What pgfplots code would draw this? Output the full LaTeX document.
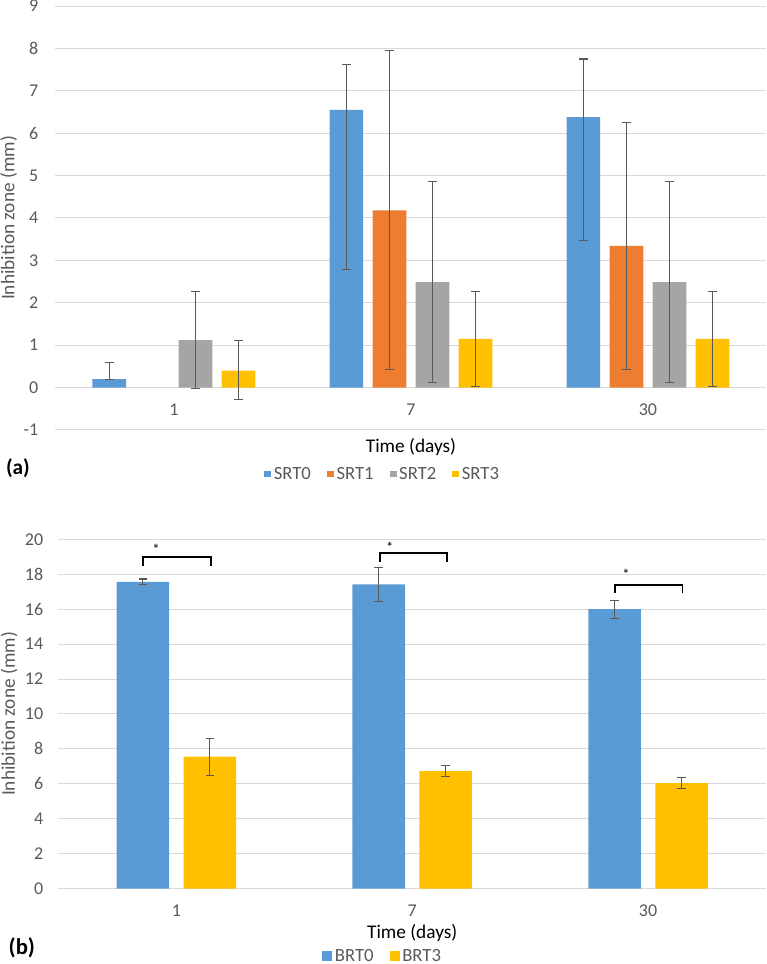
\documentclass[border=0pt]{standalone}
\usepackage{pgfplots}
\pgfplotsset{compat=1.18}
\usepackage{fontspec}
\setmainfont{Carlito}
\definecolor{c0}{HTML}{5B9BD5}
\definecolor{c1}{HTML}{ED7D31}
\definecolor{c2}{HTML}{A5A5A5}
\definecolor{c3}{HTML}{FFC000}
\definecolor{tg}{HTML}{595959}
\definecolor{gridc}{HTML}{D9D9D9}
\definecolor{errc}{HTML}{595959}

\pgfplotsset{
 errs/.style={error bars/y dir=both, error bars/y explicit,
   error bars/error bar style={line width=0.8pt, errc},
   error bars/error mark options={rotate=90, line width=0.8pt, errc, mark size=3.2pt}},
 mybar/.style={draw=none, fill=#1, errs,
   legend image code/.code={\fill[#1] (0pt,-2.6pt) rectangle (5.2pt,2.6pt);}},
 mybarb/.style={draw=none, fill=#1, errs,
   legend image code/.code={\fill[#1] (0pt,-3.6pt) rectangle (7.5pt,3.6pt);}},
 base/.style={scale only axis, xmin=-0.5, xmax=2.5, xtick={0,1,2}, xticklabels={1,7,30},
   axis line style={draw=none}, major tick length=0pt,
   ymajorgrids, grid style={gridc, line width=0.75pt},
   tick label style={font=\fontsize{13.5}{16}\selectfont, text=tg},
   /pgf/number format/assume math mode=true,
   label style={font=\fontsize{14.5}{17}\selectfont},
   legend columns=4,
   legend style={draw=none, fill=none, anchor=center, font=\fontsize{14}{16}\selectfont, text=tg,
     inner sep=0pt, /tikz/every even column/.append style={column sep=10pt}},
   clip=false}
}

\pgfplotstableread{
x y ep em
0 0.20 0.40 0.00
1 6.55 1.07 3.77
2 6.38 1.37 2.91
}\srtzero
\pgfplotstableread{
x y ep em
1 4.18 3.77 3.76
2 3.34 2.92 2.92
}\srtone
\pgfplotstableread{
x y ep em
0 1.12 1.14 1.15
1 2.49 2.37 2.36
2 2.49 2.37 2.36
}\srttwo
\pgfplotstableread{
x y ep em
0 0.40 0.72 0.69
1 1.15 1.12 1.13
2 1.15 1.12 1.13
}\srtthree
\pgfplotstableread{
x y ep em
0 17.56 0.17 0.16
1 17.42 0.99 0.96
2 16.00 0.51 0.51
}\brtzero
\pgfplotstableread{
x y ep em
0 7.56 1.05 1.06
1 6.73 0.31 0.31
2 6.04 0.32 0.29
}\brtthree

\begin{document}
\begin{tikzpicture}
\useasboundingbox (0,0) rectangle (575.25pt,-723pt);

\begin{axis}[base, at={(41.6pt,-4.5pt)}, anchor=north west,
  width=533.25pt, height=318pt,
  ybar=7pt, bar width=25.3pt,
  ymin=-1, ymax=9, ytick={-1,0,...,9},
  xticklabel style={yshift=23.3pt}, yticklabel style={xshift=-9.4pt},
  xlabel={Time (days)}, xlabel style={at={(axis description cs:0.5,-0.0393)}, anchor=center, text=black},
  ylabel={Inhibition zone (mm)}, ylabel style={at={(axis description cs:-0.066,0.5)}, anchor=center, text=tg},
  legend style={at={(axis description cs:0.4606,-0.1038)}}]
\addplot[mybar=c0] table[x=x,y=y,y error plus=ep,y error minus=em] {\srtzero};
\addlegendentry{SRT0}
\addplot[mybar=c1] table[x=x,y=y,y error plus=ep,y error minus=em] {\srtone};
\addlegendentry{SRT1}
\addplot[mybar=c2] table[x=x,y=y,y error plus=ep,y error minus=em] {\srttwo};
\addlegendentry{SRT2}
\addplot[mybar=c3] table[x=x,y=y,y error plus=ep,y error minus=em] {\srtthree};
\addlegendentry{SRT3}
\end{axis}

\node[anchor=west, font=\bfseries\fontsize{16}{19}\selectfont] at (1pt,-351pt) {(a)};

\begin{axis}[base, at={(43.8pt,-404.5pt)}, anchor=north west,
  width=530.7pt, height=261.9pt,
  ybar=10.8pt, bar width=39.4pt,
  ymin=0, ymax=20, ytick={0,2,...,20},
  xticklabel style={yshift=-8.5pt}, yticklabel style={xshift=-7.9pt},
  xlabel={Time (days)}, xlabel style={at={(axis description cs:0.5,-0.1275)}, anchor=center, text=black},
  ylabel={Inhibition zone (mm)}, ylabel style={at={(axis description cs:-0.0697,0.5)}, anchor=center, text=tg},
  legend style={at={(axis description cs:0.4587,-0.1933)}}]
\addplot[mybarb=c0] table[x=x,y=y,y error plus=ep,y error minus=em] {\brtzero};
\addlegendentry{BRT0}
\addplot[mybarb=c3] table[x=x,y=y,y error plus=ep,y error minus=em] {\brtthree};
\addlegendentry{BRT3}
\addplot[sharp plot, forget plot, black, line width=1.3pt, no marks] coordinates {(-0.142,18.5) (-0.142,19.0) (0.148,19.0) (0.148,18.5)};
\addplot[sharp plot, forget plot, black, line width=1.3pt, no marks] coordinates {(0.862,18.69) (0.862,19.21) (1.146,19.21) (1.146,18.69)};
\addplot[sharp plot, forget plot, black, line width=1.3pt, no marks] coordinates {(1.86,16.92) (1.86,17.39) (2.146,17.39) (2.146,16.92)};
\node[font=\fontsize{11}{13}\selectfont] at (axis cs:-0.086,19.45) {*};
\node[font=\fontsize{11}{13}\selectfont] at (axis cs:0.905,19.55) {*};
\node[font=\fontsize{11}{13}\selectfont] at (axis cs:1.907,18.0) {*};
\end{axis}

\node[anchor=west, font=\bfseries\fontsize{17}{20}\selectfont] at (3pt,-711pt) {(b)};
\end{tikzpicture}
\end{document}
